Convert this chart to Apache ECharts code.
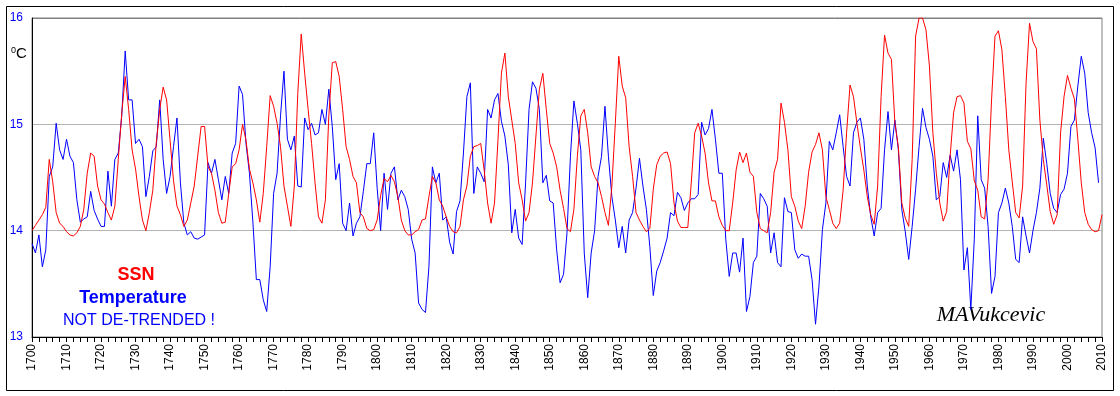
<!DOCTYPE html>
<html>
<head>
<meta charset="utf-8">
<title>SSN and Temperature</title>
<script src="https://cdn.jsdelivr.net/npm/echarts@6/dist/echarts.min.js"></script>
<style>
    html, body { margin: 0; padding: 0; background: #fff; }
    #chart { width: 1120px; height: 396px; }
</style>
</head>
<body>
<div id="chart"></div>
<script>
// first year of both series, one value per year
var firstYear = 1700;

// sunspot number, scaled to the temperature axis (1700 - 2010)
var ssnValues = [
    14.00, 14.05, 14.10, 14.15, 14.22, 14.67, 14.46, 14.17, 14.07, 14.04,
    13.99, 13.96, 13.95, 13.98, 14.04, 14.20, 14.54, 14.73, 14.70, 14.42,
    14.29, 14.25, 14.17, 14.10, 14.23, 14.67, 15.10, 15.45, 15.14, 14.76,
    14.58, 14.32, 14.10, 14.00, 14.17, 14.38, 14.82, 15.14, 15.35, 15.23,
    14.85, 14.47, 14.23, 14.15, 14.04, 14.10, 14.26, 14.42, 14.70, 14.98,
    14.98, 14.60, 14.54, 14.38, 14.17, 14.07, 14.08, 14.35, 14.60, 14.63,
    14.76, 15.00, 14.85, 14.58, 14.45, 14.29, 14.08, 14.35, 14.79, 15.27,
    15.17, 15.01, 14.79, 14.42, 14.23, 14.04, 14.42, 15.29, 15.85, 15.48,
    15.14, 14.82, 14.45, 14.13, 14.07, 14.29, 15.08, 15.58, 15.59, 15.45,
    15.14, 14.79, 14.67, 14.51, 14.45, 14.17, 14.13, 14.02, 14.00, 14.01,
    14.10, 14.33, 14.49, 14.46, 14.52, 14.46, 14.32, 14.10, 14.00, 13.96,
    13.96, 13.99, 14.01, 14.10, 14.11, 14.32, 14.51, 14.45, 14.29, 14.23,
    14.13, 14.04, 13.99, 13.98, 14.04, 14.29, 14.42, 14.70, 14.79, 14.80,
    14.82, 14.57, 14.26, 14.07, 14.26, 14.85, 15.48, 15.67, 15.26, 15.04,
    14.82, 14.45, 14.29, 14.09, 14.17, 14.45, 14.89, 15.33, 15.48, 15.14,
    14.82, 14.73, 14.60, 14.38, 14.21, 14.02, 13.99, 14.20, 14.70, 15.08,
    15.14, 14.92, 14.60, 14.51, 14.45, 14.32, 14.17, 14.05, 14.42, 15.01,
    15.64, 15.36, 15.25, 14.79, 14.51, 14.17, 14.10, 14.04, 13.99, 14.02,
    14.39, 14.62, 14.70, 14.73, 14.74, 14.63, 14.26, 14.09, 14.03, 14.03,
    14.03, 14.45, 14.92, 15.01, 14.89, 14.73, 14.45, 14.28, 14.28, 14.13,
    14.05, 14.00, 14.00, 14.26, 14.57, 14.74, 14.64, 14.73, 14.55, 14.51,
    14.17, 14.02, 14.00, 13.98, 14.17, 14.55, 14.67, 15.20, 15.02, 14.76,
    14.32, 14.23, 14.09, 14.02, 14.23, 14.55, 14.74, 14.81, 14.92, 14.76,
    14.32, 14.20, 14.07, 14.02, 14.07, 14.38, 14.92, 15.37, 15.26, 15.01,
    14.78, 14.57, 14.32, 14.15, 14.06, 14.42, 15.26, 15.84, 15.67, 15.61,
    15.01, 14.79, 14.26, 14.12, 14.04, 14.67, 15.83, 16.00, 16.00, 15.89,
    15.55, 14.92, 14.54, 14.26, 14.09, 14.18, 14.70, 15.11, 15.26, 15.27,
    15.20, 14.84, 14.77, 14.47, 14.38, 14.13, 14.11, 14.48, 15.23, 15.83,
    15.88, 15.70, 15.26, 14.76, 14.46, 14.17, 14.12, 14.42, 15.39, 15.95,
    15.78, 15.71, 15.04, 14.67, 14.43, 14.18, 14.06, 14.15, 14.92, 15.26,
    15.46, 15.34, 15.24, 14.86, 14.45, 14.17, 14.06, 14.01, 13.99, 14.00,
    14.15
];

// temperature, deg C (1700 - 2009)
var tempValues = [
    13.88, 13.79, 13.96, 13.66, 13.82, 14.51, 14.60, 15.01, 14.76, 14.67,
    14.86, 14.70, 14.64, 14.29, 14.08, 14.11, 14.13, 14.37, 14.19, 14.11,
    14.04, 14.04, 14.56, 14.23, 14.67, 14.73, 15.08, 15.69, 15.23, 15.23,
    14.82, 14.86, 14.79, 14.32, 14.51, 14.75, 14.79, 15.23, 14.67, 14.35,
    14.51, 14.79, 15.06, 14.45, 14.07, 13.96, 13.99, 13.93, 13.92, 13.94,
    13.96, 14.64, 14.54, 14.67, 14.48, 14.29, 14.51, 14.35, 14.73, 14.82,
    15.36, 15.28, 14.82, 14.54, 14.08, 13.54, 13.54, 13.35, 13.24, 13.66,
    14.35, 14.54, 15.08, 15.50, 14.86, 14.76, 14.89, 14.42, 14.41, 15.06,
    14.95, 15.01, 14.90, 14.92, 15.14, 15.00, 15.33, 14.98, 14.48, 14.63,
    14.07, 14.00, 14.26, 13.95, 14.07, 14.13, 14.37, 14.63, 14.63, 14.92,
    14.40, 14.00, 14.54, 14.20, 14.54, 14.60, 14.29, 14.38, 14.32, 14.20,
    13.92, 13.79, 13.32, 13.26, 13.23, 13.66, 14.60, 14.45, 14.54, 14.10,
    14.13, 13.89, 13.78, 14.18, 14.28, 14.73, 15.26, 15.39, 14.35, 14.60,
    14.54, 14.46, 15.14, 15.06, 15.23, 15.29, 15.03, 14.89, 14.62, 13.98,
    14.20, 13.93, 13.87, 14.45, 15.14, 15.40, 15.34, 15.14, 14.45, 14.52,
    14.28, 14.26, 13.82, 13.51, 13.59, 13.98, 14.70, 15.22, 15.01, 14.76,
    13.79, 13.37, 13.79, 14.00, 14.51, 14.70, 15.17, 14.70, 14.32, 14.10,
    13.84, 14.04, 13.79, 14.10, 14.17, 14.40, 14.68, 14.42, 14.20, 13.85,
    13.39, 13.62, 13.70, 13.81, 13.93, 14.17, 14.14, 14.36, 14.31, 14.19,
    14.26, 14.30, 14.30, 14.34, 15.02, 14.90, 14.96, 15.14, 14.86, 14.54,
    14.54, 13.92, 13.57, 13.79, 13.79, 13.61, 13.93, 13.24, 13.38, 13.70,
    13.76, 14.35, 14.30, 14.23, 13.79, 13.98, 13.70, 13.66, 14.31, 14.18,
    14.17, 13.82, 13.74, 13.78, 13.76, 13.76, 13.54, 13.12, 13.48, 14.01,
    14.26, 14.84, 14.76, 14.92, 15.09, 14.79, 14.51, 14.42, 14.92, 15.02,
    15.06, 14.86, 14.42, 14.13, 13.95, 14.17, 14.21, 14.76, 15.12, 14.76,
    15.04, 14.76, 14.20, 13.99, 13.73, 14.04, 14.39, 14.79, 15.15, 14.97,
    14.86, 14.70, 14.29, 14.32, 14.64, 14.50, 14.71, 14.56, 14.76, 14.48,
    13.63, 13.84, 13.26, 13.92, 15.08, 14.48, 14.40, 14.04, 13.41, 13.57,
    14.17, 14.26, 14.40, 14.26, 14.04, 13.73, 13.70, 14.13, 13.95, 13.79,
    14.00, 14.17, 14.40, 14.87, 14.63, 14.35, 14.21, 14.17, 14.34, 14.39,
    14.54, 14.98, 15.04, 15.36, 15.64, 15.48, 15.11, 14.92, 14.78, 14.45
];

// axis ranges
var yearMin = 1700, yearMax = 2010, yearStep = 10;
var tempMin = 13, tempMax = 16, tempStep = 1;

function toPairs(values) {
    var out = [];
    for (var i = 0; i < values.length; i++) {
        out.push([firstYear + i, values[i]]);
    }
    return out;
}

var chart = echarts.init(document.getElementById('chart'), null, {renderer: 'canvas'});

var option = {
    backgroundColor: '#ffffff',
    animation: false,
    grid: {
        left: 32,
        right: 18,
        top: 18,
        bottom: 59,
        show: true,
        borderColor: '#808080',
        borderWidth: 1,
        backgroundColor: 'transparent',
        containLabel: false,
        outerBoundsMode: 'none'
    },
    xAxis: {
        type: 'value',
        min: yearMin,
        max: yearMax,
        interval: yearStep,
        axisLine: {
            onZero: false,
            lineStyle: {color: '#000', width: 1}
        },
        axisTick: {
            show: true,
            length: 5,
            lineStyle: {color: '#000'}
        },
        minorTick: {
            show: true,
            splitNumber: 5,
            length: 5,
            lineStyle: {color: '#000'}
        },
        splitLine: {show: false},
        axisLabel: {
            rotate: 90,
            margin: 7,
            color: '#000',
            fontFamily: 'Liberation Sans, Arial, sans-serif',
            fontSize: 12,
            showMinLabel: true,
            showMaxLabel: true,
            hideOverlap: false,
            formatter: function (v) { return String(v); }
        }
    },
    yAxis: {
        type: 'value',
        min: tempMin,
        max: tempMax,
        interval: tempStep,
        axisLine: {
            show: true,
            onZero: false,
            lineStyle: {color: '#000', width: 1}
        },
        axisTick: {show: false},
        splitLine: {
            show: true,
            lineStyle: {color: ['#b4b4b4', '#b4b4b4', '#b4b4b4', '#808080'], width: 1}
        },
        axisLabel: {
            margin: 9,
            color: '#0000ff',
            fontFamily: 'Liberation Sans, Arial, sans-serif',
            fontSize: 12
        }
    },
    series: [
        {
            name: 'Temperature',
            type: 'line',
            data: toPairs(tempValues),
            showSymbol: false,
            symbol: 'none',
            smooth: false,
            lineStyle: {color: '#0000ff', width: 1},
            emphasis: {disabled: true},
            z: 2
        },
        {
            name: 'SSN',
            type: 'line',
            data: toPairs(ssnValues),
            showSymbol: false,
            symbol: 'none',
            smooth: false,
            lineStyle: {color: '#ff0000', width: 1},
            emphasis: {disabled: true},
            z: 3
        }
    ],
    graphic: [
        {   // outer frame
            type: 'rect',
            shape: {x: 6.5, y: 6.5, width: 1107, height: 384},
            style: {fill: null, stroke: '#000', lineWidth: 1},
            silent: true
        },
        {   // degree sign
            type: 'text', left: 11, top: 46,
            style: {text: '0', fill: '#000', font: '9px "Liberation Sans", Arial, sans-serif'}
        },
        {
            type: 'text', left: 16, top: 46,
            style: {text: 'C', fill: '#000', font: '15px "Liberation Sans", Arial, sans-serif'}
        },
        {
            type: 'text', x: 136, y: 275,
            style: {text: 'SSN', fill: '#ff0000', textAlign: 'center', textVerticalAlign: 'middle',
                font: 'bold 18px "Liberation Sans", Arial, sans-serif'}
        },
        {
            type: 'text', x: 133, y: 298,
            style: {text: 'Temperature', fill: '#0000ff', textAlign: 'center', textVerticalAlign: 'middle',
                font: 'bold 18px "Liberation Sans", Arial, sans-serif'}
        },
        {
            type: 'text', x: 139, y: 321,
            style: {text: 'NOT DE-TRENDED !', fill: '#0000ff', textAlign: 'center', textVerticalAlign: 'middle',
                font: '16px "Liberation Sans", Arial, sans-serif'}
        },
        {
            type: 'text', x: 991, y: 315,
            style: {text: 'MAVukcevic', fill: '#000', textAlign: 'center', textVerticalAlign: 'middle',
                font: 'italic 22px "Liberation Serif", "Times New Roman", serif'}
        }
    ]
};

chart.setOption(option);
</script>
</body>
</html>
